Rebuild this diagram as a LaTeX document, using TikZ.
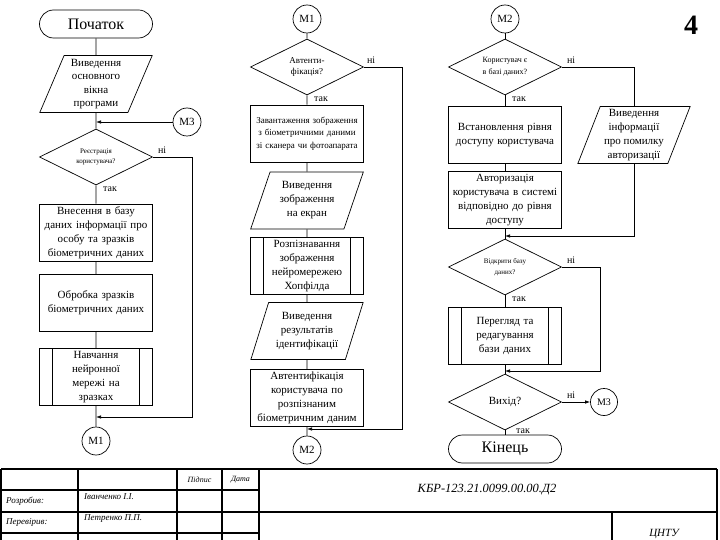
\documentclass[tikz,border=0pt]{standalone}
\usepackage{fontspec}
\setmainfont{Liberation Serif}
\usetikzlibrary{arrows.meta,positioning,shapes.geometric,calc}

\tikzset{
  base/.style={draw,line width=0.7pt,align=center,inner sep=1pt,
               font=\fontsize{11}{14}\selectfont},
  term/.style={base,rounded corners=14pt,minimum width=113pt,
               minimum height=28pt,font=\fontsize{16}{18}\selectfont},
  io/.style={base,trapezium,trapezium left angle=69,trapezium right angle=111,
             trapezium stretches=true,minimum width=113pt,minimum height=57pt,
             inner sep=0pt},
  proc/.style={base,rectangle,minimum width=113pt,minimum height=57pt,
               text width=111pt},
  sub/.style={proc,text width=84pt,
    path picture={\draw[line width=0.7pt]
      ([xshift=13pt]path picture bounding box.north west)
        -- ([xshift=13pt]path picture bounding box.south west)
      ([xshift=-13pt]path picture bounding box.north east)
        -- ([xshift=-13pt]path picture bounding box.south east);}},
  dec/.style={base,diamond,aspect=2,minimum width=113pt,minimum height=56pt,
              inner sep=0pt},
  conn/.style={base,circle,minimum size=28pt,inner sep=0pt},
  lbl/.style={font=\fontsize{10}{12}\selectfont,inner sep=1pt},
  arr/.style={line width=0.7pt,-{Latex[length=5pt,width=3.5pt]}},
  line/.style={line width=0.7pt},
  frame/.style={line width=1.6pt},
  stamp/.style={font=\itshape\fontsize{9}{10}\selectfont,inner sep=0pt}
}

\begin{document}
\begin{tikzpicture}[x=1pt,y=-1pt]
  \useasboundingbox (0,0) rectangle (720,540);
  %% left column
  \node[term] (start) at (96,24) {Початок};
  \node[io,font=\fontsize{11}{13.5}\selectfont] (win) at (96,84)
       {Виведення\\основного\\вікна\\програми};
  \node[dec,font=\fontsize{7}{10}\selectfont] (reg) at (96,157)
       {Реєстрація\\користувача?};
  \node[proc] (add) at (96,232.5)
       {Внесення в базу\\даних інформації про\\особу та зразків\\біометричних даних};
  \node[proc] (prep) at (96,303) {Обробка зразків\\біометричних даних};
  \node[sub] (train) at (96,377) {Навчання\\нейронної\\мережі на\\зразках};
  \node[conn] (m1a) at (96,441) {М1};
  \node[conn] (m3a) at (187,122) {М3};
  \coordinate (j1) at (96,417);
  \draw[line] (start) -- (win) -- (reg) -- (add) -- (prep) -- (train) -- (m1a);
  \draw[arr] (m3a.west) -- (m3a.west -| win.south);
  \draw[arr] (reg.east) -- ++(39,0) |- (j1);
  \node[lbl,above right=2pt and 4pt of reg.east] (reg-no) {ні};
  \node[lbl,below right=0pt and 6pt of reg.south] (reg-yes) {так};
  %% middle column
  \node[conn] (m1b) at (307,19) {М1};
  \node[dec,font=\fontsize{9}{11.5}\selectfont] (auth) at (307,67)
       {Автенти-\\фікація?};
  \node[proc,font=\fontsize{9}{12.5}\selectfont] (load) at (307,133.5)
       {Завантаження зображення\\з біометричними даними\\зі сканера чи фотоапарата};
  \node[io] (show) at (307,200.5) {Виведення\\зображення\\на екран};
  \node[sub] (recog) at (307,266) {Розпізнавання\\зображення\\нейромережею\\Хопфілда};
  \node[io] (res) at (307,331) {Виведення\\результатів\\ідентифікації};
  \node[proc] (check) at (307,398)
       {Автентифікація\\користувача по\\розпізнаним\\біометричним даним};
  \node[conn] (m2a) at (307,450) {М2};
  \coordinate (j2) at (307,429);
  \draw[line] (m1b) -- (auth) -- (load) -- (show) -- (recog) -- (res)
       -- (check) -- (m2a);
  \draw[arr] (auth.east) -- ++(38,0) |- (j2);
  \node[lbl,above right=2pt and 2pt of auth.east] (auth-no) {ні};
  \node[lbl,below right=0pt and 6pt of auth.south] (auth-yes) {так};
  %% right column
  \node[conn] (m2b) at (505,19) {М2};
  \node[dec,font=\fontsize{8}{12}\selectfont] (user) at (505,67)
       {Користувач є\\в базі даних?};
  \node[proc] (level) at (505,135) {Встановлення рівня\\доступу користувача};
  \node[io] (err) at (634,135) {Виведення\\інформації\\про помилку\\авторизації};
  \node[proc] (login) at (505,200)
       {Авторизація\\користувача в системі\\відповідно до рівня\\доступу};
  \node[dec,font=\fontsize{7}{11}\selectfont] (open) at (505,267)
       {Відкрити базу\\даних?};
  \node[sub] (edit) at (505,335.5) {Перегляд та\\редагування\\бази даних};
  \node[dec] (quit) at (505,402) {Вихід?};
  \node[conn,minimum size=27pt,font=\fontsize{10}{12}\selectfont] (m3b)
       at (604,402) {М3};
  \node[term] (finish) at (505,449) {Кінець};
  \coordinate (j3) at (505,236);
  \coordinate (j4) at (505,371);
  \draw[line] (m2b) -- (user) -- (level) -- (login) -- (open) -- (edit)
       -- (quit) -- (finish);
  \draw[line] (user.east) -| (err.north);
  \draw[arr] (err.south) |- (j3);
  \draw[arr] (open.east) -- ++(38,0) |- (j4);
  \draw[arr] (quit.east) -- (m3b);
  \node[lbl,above right=2pt and 4pt of user.east] (user-no) {ні};
  \node[lbl,below right=0pt and 6pt of user.south] (user-yes) {так};
  \node[lbl,above right=2pt and 4pt of open.east] (open-no) {ні};
  \node[lbl,below right=0pt and 6pt of open.south] (open-yes) {так};
  \node[lbl,above right=2pt and 4pt of quit.east] (quit-no) {ні};
  \node[lbl,below right=-3pt and 10pt of quit.south] (quit-yes) {так};
  \node[font=\bfseries\fontsize{28}{30}\selectfont] (sheet) at (691,25) {4};
  %% title block
  \draw[frame] (1,469) -- (717,469) (1,512) -- (717,512)
       (1,490) -- (259,490) (1,533) -- (259,533)
       (1,469) -- (1,545) (78,469) -- (78,545) (177,469) -- (177,545)
       (222,469) -- (222,545) (259,469) -- (259,545)
       (612,512) -- (612,545) (717,469) -- (717,545);
  \node[stamp,font=\itshape\fontsize{8}{9}\selectfont] (sign) at (199.5,479.5) {Підпис};
  \node[stamp,font=\itshape\fontsize{8}{9}\selectfont] (date) at (240.5,479.5) {Дата};
  \node[stamp,anchor=west] (dev) at (6,501.5) {Розробив:};
  \node[stamp,anchor=west] (devname) at (84,497) {Іванченко І.І.};
  \node[stamp,anchor=west] (chk) at (6,522.5) {Перевірив:};
  \node[stamp,anchor=west] (chkname) at (84,519) {Петренко П.П.};
  \node[stamp,font=\itshape\fontsize{12.5}{14}\selectfont] (code) at (487,490)
       {КБР-123.21.0099.00.00.Д2};
  \node[stamp,font=\itshape\fontsize{11}{12}\selectfont,anchor=north] (org)
       at (664,529) {ЦНТУ};
\end{tikzpicture}
\end{document}
